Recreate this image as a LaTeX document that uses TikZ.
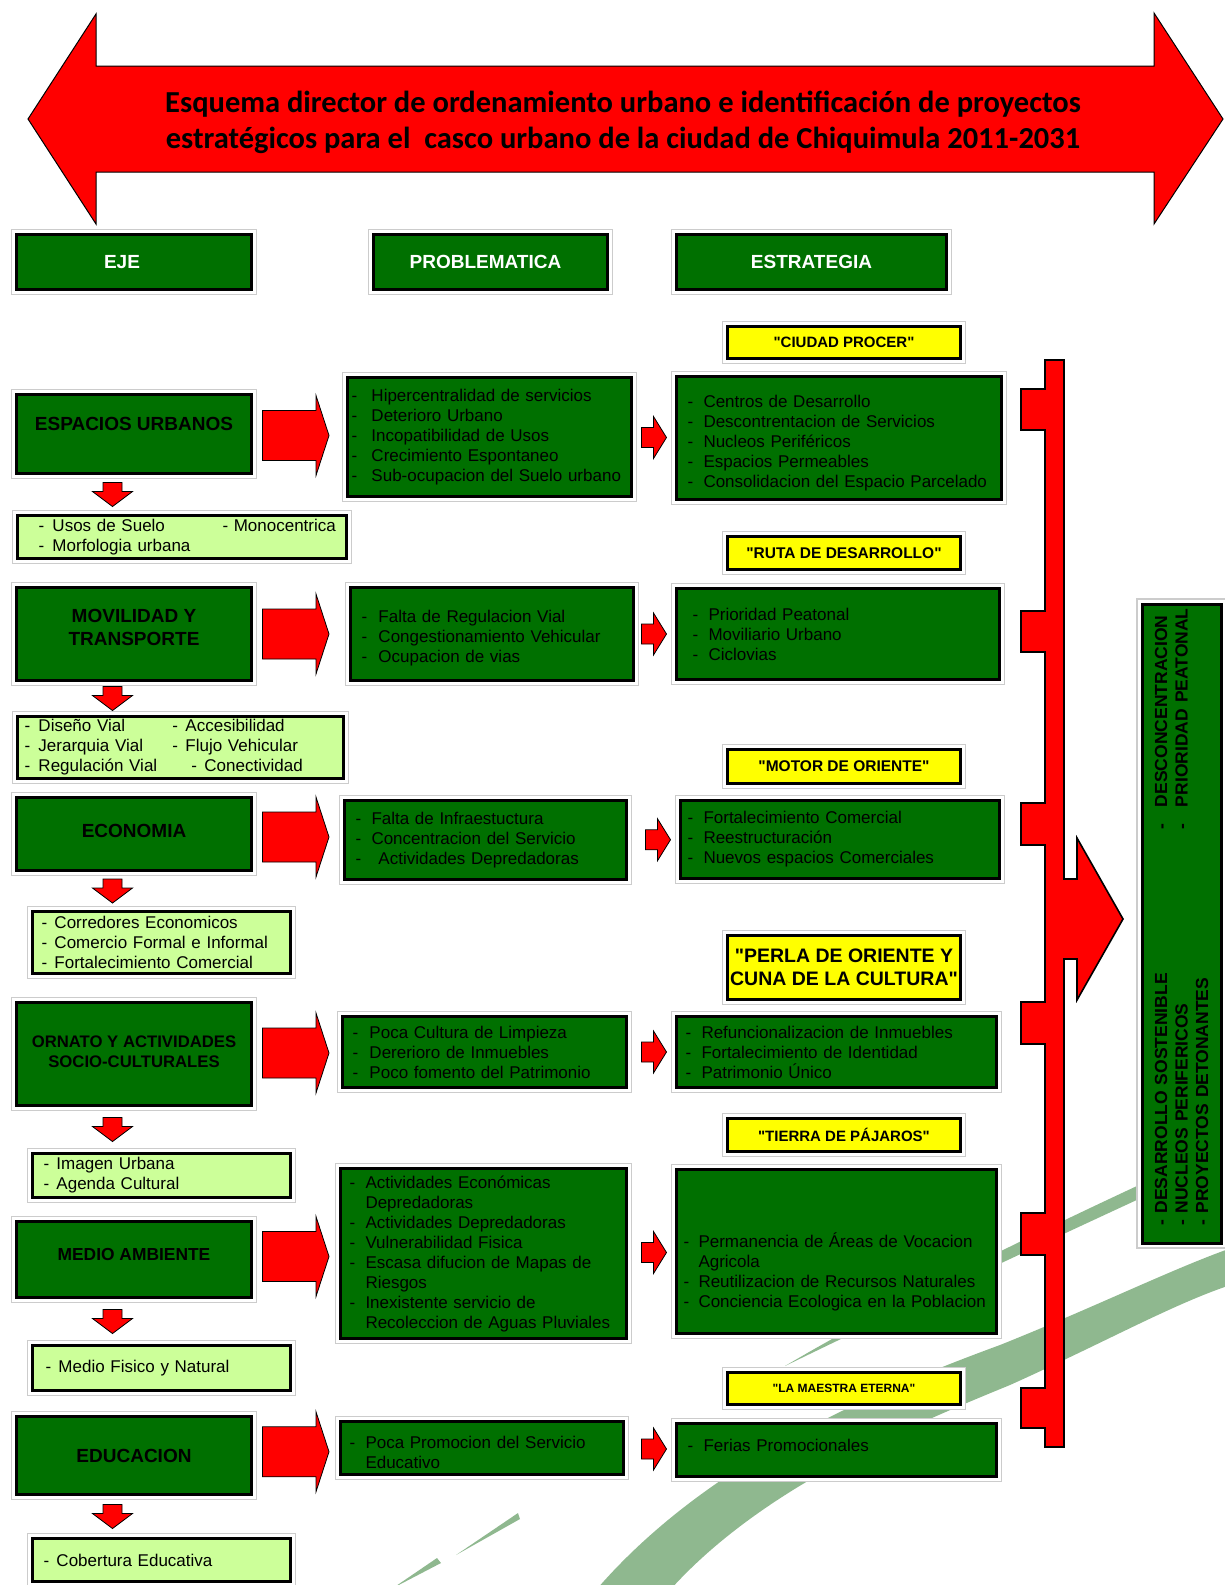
\documentclass[tikz,border=0pt]{standalone}
\usepackage{fontspec}
\setmainfont{Liberation Sans}[Ligatures=TeXOff]
\newfontfamily\titulofont{Carlito}
\usetikzlibrary{positioning, fit, backgrounds, calc}
\definecolor{verde}{RGB}{0,112,0}
\definecolor{verdeclaro}{RGB}{204,255,153}
\definecolor{amarillo}{RGB}{255,255,0}
\definecolor{rojo}{RGB}{255,0,0}
\definecolor{salvia}{RGB}{143,184,143}

\newcommand{\guion}[1][16pt]{\makebox[#1][l]{-}}
% flecha grande: eje -> problematica
\newcommand{\flechaG}[2]{%
  \coordinate (medio) at ($(#1.center)!0.5!(#2.center)$);
  \filldraw[bloque] let \p1=(#1.east), \p2=(medio) in
    (\x1+9.5pt,\y2+25pt) -- (\x1+63pt,\y2+25pt) -- (\x1+63pt,\y2+40pt) -- (\x1+76pt,\y2)
    -- (\x1+63pt,\y2-40pt) -- (\x1+63pt,\y2-25pt) -- (\x1+9.5pt,\y2-25pt) -- cycle;}
% flecha chica: problematica -> estrategia
\newcommand{\flechaC}[2]{%
  \coordinate (medio) at ($(#1.center)!0.5!(#2.center)$);
  \filldraw[bloque] let \p1=(#2.west), \p2=(medio) in
    (\x1-33.5pt,\y2+10pt) -- (\x1-21.5pt,\y2+10pt) -- (\x1-21.5pt,\y2+21pt) -- (\x1-8.5pt,\y2)
    -- (\x1-21.5pt,\y2-21pt) -- (\x1-21.5pt,\y2-10pt) -- (\x1-33.5pt,\y2-10pt) -- cycle;}
% flecha hacia abajo: eje -> aspectos
\newcommand{\flechaB}[2]{%
  \coordinate (medio) at ($(#1.south)!0.5!(#2.north)$);
  \filldraw[bloque] let \p1=(#1.center), \p2=(medio) in
    (\x1-31pt,\y2+12pt) -- (\x1-12pt,\y2+12pt) -- (\x1-12pt,\y2+3pt) -- (\x1-1.5pt,\y2+3pt)
    -- (\x1-21.5pt,\y2-12pt) -- (\x1-41.5pt,\y2+3pt) -- (\x1-31pt,\y2+3pt) -- cycle;}

\begin{document}
\begin{tikzpicture}[x=1pt, y=-1pt,
  caja/.style={draw=black, line width=3pt, fill=verde, anchor=north west, inner sep=0pt},
  marco/.style={draw=gray!40, fill=white, line width=1.3pt, inner sep=3.5pt},
  cabecera/.style={caja, text=white, font=\bfseries\fontsize{19}{23}\selectfont},
  eje/.style={caja, align=center, font=\bfseries\fontsize{19}{23}\selectfont},
  lista/.style={caja, align=left, font=\fontsize{17}{20}\selectfont},
  clara/.style={lista, fill=verdeclaro},
  lema/.style={caja, fill=amarillo, align=center, font=\bfseries\fontsize{15}{18}\selectfont},
  bloque/.style={fill=rojo, draw=black, line width=0.8pt},
  tam/.style 2 args={minimum width=#1pt, minimum height=#2pt}
]
  \useasboundingbox (0,0) rectangle (1225,1585);

  % Flecha doble del titulo
  \filldraw[bloque, line width=1pt] (28,119) -- (96,14) -- (96,66) -- (1154,66) -- (1154,13)
    -- (1223,119) -- (1154,224) -- (1154,172) -- (96,172) -- (96,224) -- cycle;
  \node[font=\titulofont\bfseries\fontsize{30.5}{36.6}\selectfont, align=center] (titulo) at (623,122.5)
    {Esquema director de ordenamiento urbano e identificación de proyectos\\
     estratégicos para el\ \ casco urbano de la ciudad de Chiquimula 2011-2031};

  % Cabeceras
  \node[cabecera, tam={235}{55}] (h1) at (15,233) {EJE\hspace*{24pt}};
  \node[cabecera, tam={234}{55}] (h2) at (372,233) {PROBLEMATICA\hspace*{10pt}};
  \node[cabecera, tam={270}{55}] (h3) at (675,233) {ESTRATEGIA};

  % Ejes
  \node[eje, tam={235}{79}, text depth=20pt] (e1) at (15,393) {ESPACIOS URBANOS};
  \node[eje, tam={235}{93}, text depth=14pt] (e2) at (15,586) {MOVILIDAD Y\\TRANSPORTE};
  \node[eje, tam={235}{73}, text depth=6pt] (e3) at (15,796) {ECONOMIA};
  \node[eje, tam={235}{103}, text height=28pt, font=\bfseries\fontsize{16.7}{20.3}\selectfont] (e4) at (15,1001) {ORNATO Y ACTIVIDADES\\SOCIO-CULTURALES};
  \node[eje, tam={235}{76}, text depth=10pt, font=\bfseries\fontsize{17.4}{21}\selectfont] (e5) at (15,1220) {MEDIO AMBIENTE};
  \node[eje, tam={235}{78}] (e6) at (15,1415) {EDUCACION};

  % Aspectos de cada eje
  \node[clara, tam={329}{43}, inner xsep=21pt, text width=287pt] (l1) at (16,514)
    {\makebox[184pt][l]{\guion[14pt]Usos de Suelo}\mbox{-\ Monocentrica}\\\guion[14pt]Morfologia urbana};
  \node[clara, tam={326}{62}, inner xsep=7pt, text width=312pt] (l2) at (16,715)
    {\makebox[148pt][l]{\guion[14pt]Diseño Vial}\guion[13pt]Accesibilidad\\
     \makebox[148pt][l]{\guion[14pt]Jerarquia Vial}\guion[13pt]Flujo Vehicular\\
     \makebox[167pt][l]{\guion[14pt]Regulación Vial}\guion[13pt]Conectividad};
  \node[clara, tam={258}{62}, inner xsep=9pt, text width=240pt] (l3) at (31,910)
    {\guion[13pt]Corredores Economicos\\\guion[13pt]Comercio Formal e Informal\\\guion[13pt]Fortalecimiento Comercial};
  \node[clara, tam={258}{44}, inner xsep=11pt, text width=236pt] (l4) at (31,1152)
    {\guion[13pt]Imagen Urbana\\\guion[13pt]Agenda Cultural};
  \node[clara, tam={258}{45}, inner xsep=13pt, text width=232pt] (l5) at (31,1344)
    {\guion[13pt]Medio Fisico y Natural};
  \node[clara, tam={258}{43}, inner xsep=11pt, text width=236pt] (l6) at (31,1537)
    {\guion[13pt]Cobertura Educativa};

  % Problematica
  \node[lista, tam={284}{119}, inner xsep=4pt, text width=276pt] (p1) at (346,376)
    {\guion[20pt]Hipercentralidad de servicios\\\guion[20pt]Deterioro Urbano\\\guion[20pt]Incopatibilidad de Usos\\
     \guion[20pt]Crecimiento Espontaneo\\\guion[20pt]Sub-ocupacion del Suelo urbano};
  \node[lista, tam={283}{93}, inner xsep=11pt, text width=261pt, text height=20.4pt] (p2) at (349,586)
    {\guion[17pt]Falta de Regulacion Vial\\\guion[17pt]Congestionamiento Vehicular\\\guion[17pt]Ocupacion de vias};
  \node[lista, tam={282}{79}, inner xsep=11pt, text width=260pt] (p3) at (343,799)
    {\guion Falta de Infraestuctura\\\guion Concentracion del Servicio\\\guion[23pt]Actividades Depredadoras};
  \node[lista, tam={284}{71}, inner xsep=10pt, text width=264pt] (p4) at (341,1015)
    {\guion[17pt]Poca Cultura de Limpieza\\\guion[17pt]Dererioro de Inmuebles\\\guion[17pt]Poco fomento del Patrimonio};
  \node[lista, tam={286}{170}, inner xsep=9pt, text width=268pt] (p5) at (339,1167)
    {\guion Actividades Económicas\\\hspace*{16pt}Depredadoras\\\guion Actividades Depredadoras\\
     \guion Vulnerabilidad Fisica\\\guion Escasa difucion de Mapas de\\\hspace*{16pt}Riesgos\\
     \guion Inexistente servicio de\\\hspace*{16pt}Recoleccion de Aguas Pluviales};
  \node[lista, tam={283}{53}, inner xsep=9pt, text width=265pt, text height=21.4pt] (p6) at (339,1420)
    {\guion Poca Promocion del Servicio\\\hspace*{16pt}Educativo};

  % Lemas
  \node[lema, tam={233}{32}] (y1) at (726,325) {"CIUDAD PROCER"};
  \node[lema, tam={233}{33}, font=\bfseries\fontsize{15.5}{18}\selectfont] (y2) at (726,535) {"RUTA DE DESARROLLO"};
  \node[lema, tam={233}{34}, font=\bfseries\fontsize{15.5}{18}\selectfont] (y3) at (726,748) {"MOTOR DE ORIENTE"};
  \node[lema, tam={233}{64}, font=\bfseries\fontsize{19.5}{23}\selectfont] (y4) at (726,934) {"PERLA DE ORIENTE Y\\CUNA DE LA CULTURA"};
  \node[lema, tam={233}{33}] (y5) at (726,1117) {"TIERRA DE PÁJAROS"};
  \node[lema, tam={233}{32}, font=\bfseries\fontsize{12}{14}\selectfont] (y6) at (726,1371) {"LA MAESTRA ETERNA"};

  % Estrategias
  \node[lista, tam={325}{123}, inner xsep=11pt, text width=303pt, text height=22.4pt] (s1) at (675,375)
    {\guion Centros de Desarrollo\\\guion Descontrentacion de Servicios\\\guion Nucleos Periféricos\\
     \guion Espacios Permeables\\\guion Consolidacion del Espacio Parcelado};
  \node[lista, tam={323}{91}, inner xsep=16pt, text width=291pt] (s2) at (675,587)
    {\guion Prioridad Peatonal\\\guion Moviliario Urbano\\\guion Ciclovias};
  \node[lista, tam={319}{78}, inner xsep=7pt, text width=305pt] (s3) at (679,799)
    {\guion Fortalecimiento Comercial\\\guion Reestructuración\\\guion Nuevos espacios Comerciales};
  \node[lista, tam={320}{71}, inner xsep=9pt, text width=302pt] (s4) at (675,1015)
    {\guion Refuncionalizacion de Inmuebles\\\guion Fortalecimiento de Identidad\\\guion Patrimonio Único};
  \node[lista, tam={320}{164}, inner xsep=7pt, text width=306pt, text depth=23.6pt] (s5) at (675,1168)
    {\guion[15pt]Permanencia de Áreas de Vocacion\\\hspace*{15pt}Agricola\\
     \guion[15pt]Reutilizacion de Recursos Naturales\\\guion[15pt]Conciencia Ecologica en la Poblacion};
  \node[lista, tam={320}{53}, inner xsep=11pt, text width=298pt, text depth=10pt] (s6) at (675,1422)
    {\guion Ferias Promocionales};

  % Resultado final (texto vertical)
  \node[caja, anchor=center, rotate=90, tam={639}{79}, inner xsep=18pt, text width=603pt, align=left,
        font=\bfseries\fontsize{17.5}{20.5}\selectfont] (meta) at (1181.5,923.5)
    {\mbox{\makebox[396pt][l]{-\ DESARROLLO SOSTENIBLE}\makebox[22pt][l]{-}DESCONCENTRACION}\\
     \mbox{\makebox[396pt][l]{-\ NUCLEOS PERIFERICOS}\makebox[22pt][l]{-}PRIORIDAD PEATONAL}\\
     \mbox{-\ PROYECTOS DETONANTES}};

  % Flechas
  \flechaG{e1}{p1} \flechaG{e2}{p2} \flechaG{e3}{p3}
  \flechaG{e4}{p4} \flechaG{e5}{p5} \flechaG{e6}{p6}
  \flechaC{p1}{s1} \flechaC{p2}{s2} \flechaC{p3}{s3}
  \flechaC{p4}{s4} \flechaC{p5}{s5} \flechaC{p6}{s6}
  \flechaB{e1}{l1} \flechaB{e2}{l2} \flechaB{e3}{l3}
  \flechaB{e4}{l4} \flechaB{e5}{l5} \flechaB{e6}{l6}

  % Llave roja que reune las estrategias
  \filldraw[bloque, line width=1.6pt] (1045,360) -- (1064,360) -- (1064,879) -- (1077,879) -- (1077,838)
    -- (1123,919) -- (1077,1000) -- (1077,959) -- (1064,959) -- (1064,1447) -- (1045,1447)
    -- (1045,1428) -- (1021,1428) -- (1021,1388) -- (1045,1388)
    -- (1045,1255) -- (1021,1255) -- (1021,1213) -- (1045,1213)
    -- (1045,1044) -- (1021,1044) -- (1021,1002) -- (1045,1002)
    -- (1045,845) -- (1021,845) -- (1021,803) -- (1045,803)
    -- (1045,652) -- (1021,652) -- (1021,611) -- (1045,611)
    -- (1045,430) -- (1021,430) -- (1021,389) -- (1045,389) -- cycle;

  % Fondo: franjas verdes y marcos
  \begin{scope}[on background layer]
    \fill[salvia] (596,1590) .. controls (700,1470) and (850,1400) .. (1000,1345)
      .. controls (1100,1305) and (1180,1265) .. (1240,1245) -- (1240,1282)
      .. controls (1180,1300) and (1110,1340) .. (1010,1385)
      .. controls (900,1430) and (760,1490) .. (670,1590) -- cycle;
    \fill[salvia] (785,1366) .. controls (900,1298) and (1050,1226) .. (1180,1166) -- (1180,1180)
      .. controls (1050,1240) and (900,1310) .. (785,1366) -- cycle;
    \fill[salvia] (393,1588) -- (437,1558) -- (441,1563) -- cycle;
    \fill[salvia] (456,1555) -- (518,1513) -- (520,1519) -- cycle;
    \foreach \n in {h1,h2,h3,e1,e2,e3,e4,e5,e6,l1,l2,l3,l4,l5,l6,p1,p2,p3,p4,p5,p6,
                    s1,s2,s3,s4,s5,s6,y1,y2,y3,y4,y5,y6,meta}
      \node[marco, fit=(\n)] (m\n) {};
  \end{scope}
\end{tikzpicture}
\end{document}
